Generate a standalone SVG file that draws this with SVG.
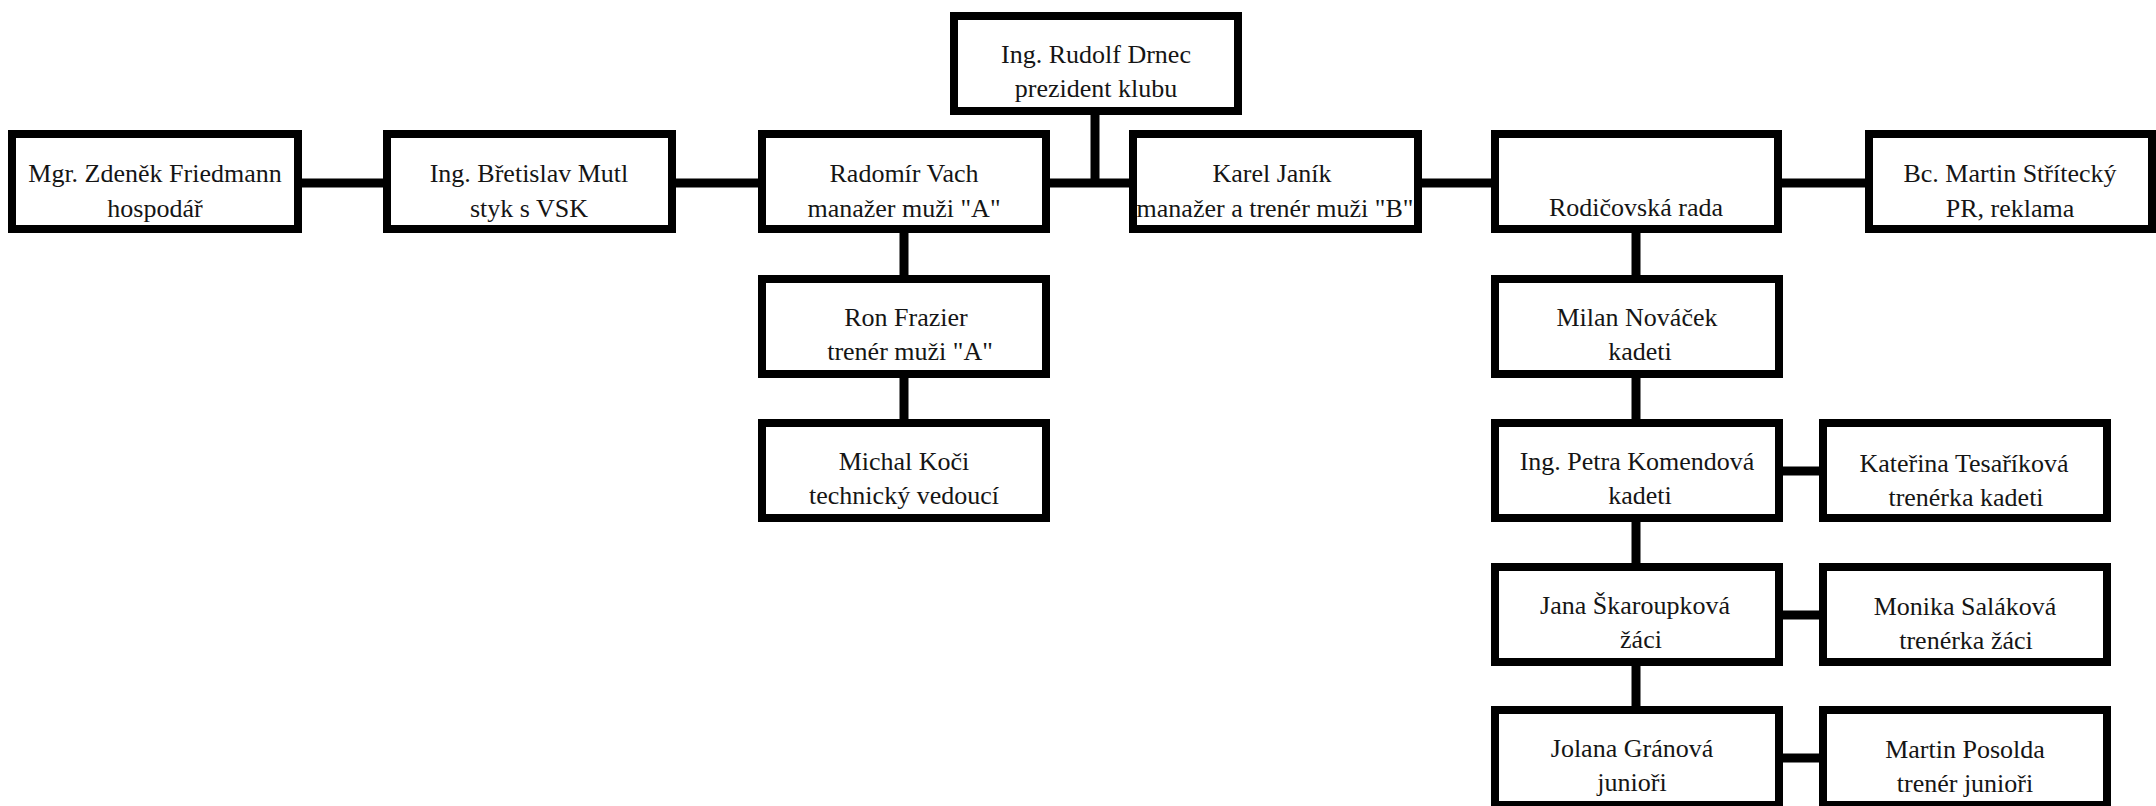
<svg xmlns="http://www.w3.org/2000/svg" width="2156" height="806" viewBox="0 0 2156 806">
<style>
.box{fill:#ffffff;stroke:#000000;stroke-width:8}
.t{font-family:"Liberation Serif","Times New Roman",serif;font-size:26px;fill:#151515;text-anchor:middle}
.c{stroke:#000000;stroke-width:9;fill:none;stroke-linecap:butt}
</style>
<rect x="0" y="0" width="2156" height="806" fill="#ffffff"/>
<g id="connectors">
<line class="c" x1="302" y1="183" x2="383" y2="183"/>
<line class="c" x1="676" y1="183" x2="758" y2="183"/>
<line class="c" x1="1050" y1="183" x2="1129" y2="183"/>
<line class="c" x1="1095" y1="115" x2="1095" y2="187"/>
<line class="c" x1="1422" y1="183" x2="1491" y2="183"/>
<line class="c" x1="1782" y1="183" x2="1865" y2="183"/>
<line class="c" x1="904" y1="233" x2="904" y2="275"/>
<line class="c" x1="904" y1="378" x2="904" y2="419"/>
<line class="c" x1="1636" y1="233" x2="1636" y2="275"/>
<line class="c" x1="1636" y1="378" x2="1636" y2="419"/>
<line class="c" x1="1636" y1="522" x2="1636" y2="563"/>
<line class="c" x1="1636" y1="666" x2="1636" y2="706"/>
<line class="c" x1="1783" y1="471" x2="1819" y2="471"/>
<line class="c" x1="1783" y1="615" x2="1819" y2="615"/>
<line class="c" x1="1783" y1="758" x2="1819" y2="758"/>
</g>
<g id="n-friedmann">
<rect class="box" x="12" y="134" width="286" height="95"/>
<text class="t" x="155" y="182">Mgr. Zdeněk Friedmann</text>
<text class="t" x="155" y="217">hospodář</text>
</g>
<g id="n-mutl">
<rect class="box" x="387" y="134" width="285" height="95"/>
<text class="t" x="529" y="182">Ing. Břetislav Mutl</text>
<text class="t" x="529" y="217">styk s VSK</text>
</g>
<g id="n-vach">
<rect class="box" x="762" y="134" width="284" height="95"/>
<text class="t" x="904" y="182">Radomír Vach</text>
<text class="t" x="904" y="217">manažer muži "A"</text>
</g>
<g id="n-drnec">
<rect class="box" x="954" y="16" width="284" height="95"/>
<text class="t" x="1096" y="63">Ing. Rudolf Drnec</text>
<text class="t" x="1096" y="97">prezident klubu</text>
</g>
<g id="n-janik">
<rect class="box" x="1133" y="134" width="285" height="95"/>
<text class="t" x="1272" y="182">Karel Janík</text>
<text class="t" x="1275" y="217">manažer a trenér muži "B"</text>
</g>
<g id="n-rada">
<rect class="box" x="1495" y="134" width="283" height="95"/>
<text class="t" x="1636" y="216">Rodičovská rada</text>
</g>
<g id="n-stritecky">
<rect class="box" x="1869" y="134" width="283" height="95"/>
<text class="t" x="2010" y="182">Bc. Martin Střítecký</text>
<text class="t" x="2010" y="217">PR, reklama</text>
</g>
<g id="n-frazier">
<rect class="box" x="762" y="279" width="284" height="95"/>
<text class="t" x="906" y="326">Ron Frazier</text>
<text class="t" x="910" y="360">trenér muži "A"</text>
</g>
<g id="n-koci">
<rect class="box" x="762" y="423" width="284" height="95"/>
<text class="t" x="904" y="470">Michal Koči</text>
<text class="t" x="904" y="504">technický vedoucí</text>
</g>
<g id="n-novacek">
<rect class="box" x="1495" y="279" width="284" height="95"/>
<text class="t" x="1637" y="326">Milan Nováček</text>
<text class="t" x="1640" y="360">kadeti</text>
</g>
<g id="n-komendova">
<rect class="box" x="1495" y="423" width="284" height="95"/>
<text class="t" x="1637" y="470">Ing. Petra Komendová</text>
<text class="t" x="1640" y="504">kadeti</text>
</g>
<g id="n-tesarikova">
<rect class="box" x="1823" y="423" width="284" height="95"/>
<text class="t" x="1964" y="472">Kateřina Tesaříková</text>
<text class="t" x="1966" y="506">trenérka kadeti</text>
</g>
<g id="n-skaroupkova">
<rect class="box" x="1495" y="567" width="284" height="95"/>
<text class="t" x="1635" y="614">Jana Škaroupková</text>
<text class="t" x="1641" y="648">žáci</text>
</g>
<g id="n-salakova">
<rect class="box" x="1823" y="567" width="284" height="95"/>
<text class="t" x="1965" y="615">Monika Saláková</text>
<text class="t" x="1966" y="649">trenérka žáci</text>
</g>
<g id="n-granova">
<rect class="box" x="1495" y="710" width="284" height="95"/>
<text class="t" x="1632" y="757">Jolana Gránová</text>
<text class="t" x="1632" y="791">junioři</text>
</g>
<g id="n-posolda">
<rect class="box" x="1823" y="710" width="284" height="95"/>
<text class="t" x="1965" y="758">Martin Posolda</text>
<text class="t" x="1965" y="792">trenér junioři</text>
</g>
</svg>
